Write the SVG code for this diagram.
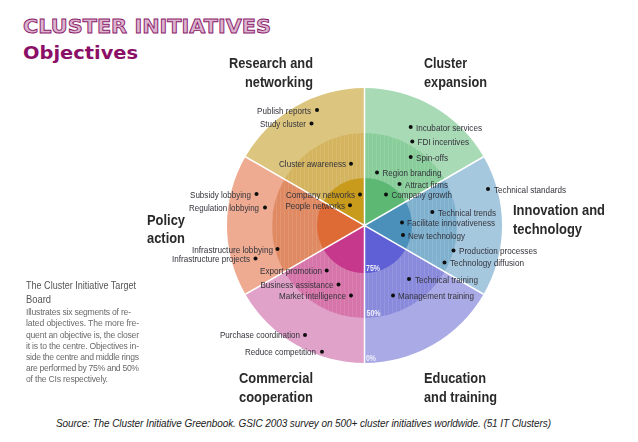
<svg xmlns="http://www.w3.org/2000/svg" width="638" height="442" viewBox="0 0 638 442">
<style>
text{font-family:"Liberation Sans",Arial,sans-serif}
.t{font-size:9.8px;fill:#33333b}
.h{font-size:15px;font-weight:bold;fill:#2a2a2a}
.b{font-size:8.6px;fill:#6a6a6a}
.lh{font-size:11px;fill:#555}
.p{font-size:9px;font-weight:bold;fill:#eeeef8}
.sep{stroke:#fff;stroke-width:1.5;fill:none}
.lab{filter:url(#soft)}
circle{fill:#111}
</style>
<defs>
<pattern id="st" width="4" height="10" patternUnits="userSpaceOnUse"><rect x="0" width="1" height="10" fill="#fff" fill-opacity=".09"/></pattern>
<filter id="soft" x="-2%" y="-2%" width="104%" height="104%"><feGaussianBlur stdDeviation="0.3"/></filter>
</defs>
<rect width="638" height="442" fill="#fff"/>
<g id="title">
<text x="23" y="33" font-size="20" font-weight="bold" textLength="248" lengthAdjust="spacingAndGlyphs" style="font-family:'DejaVu Sans',sans-serif" fill="#dcb4cd" stroke="#8b1a6b" stroke-width="0.9">CLUSTER INITIATIVES</text>
<text x="23" y="59" font-size="18" font-weight="bold" textLength="115" lengthAdjust="spacingAndGlyphs" style="font-family:'DejaVu Sans',sans-serif" fill="#8b0f66">Objectives</text>
</g>
<g id="target" class="lab">
<g id="segment-research">
<path d="M364.5 225.5L245.4 156.75A137.5 137.5 0 0 1 364.5 88Z" fill="#dcc57f"/>
<path d="M364.5 225.5L284.4 179.25A92.5 92.5 0 0 1 364.5 133Z" fill="#d4b45f"/>
<path d="M364.5 225.5L323.4 201.75A47.5 47.5 0 0 1 364.5 178Z" fill="#c99b1e"/>
</g>
<g id="segment-expansion">
<path d="M364.5 225.5V88A137.5 137.5 0 0 1 483.6 156.75Z" fill="#a9dab6"/>
<path d="M364.5 225.5V133A92.5 92.5 0 0 1 444.6 179.25Z" fill="#88cd9a"/>
<path d="M364.5 225.5V178A47.5 47.5 0 0 1 405.6 201.75Z" fill="#5cb873"/>
</g>
<g id="segment-innovation">
<path d="M364.5 225.5L483.6 156.75A137.5 137.5 0 0 1 483.6 294.25Z" fill="#a6c8df"/>
<path d="M364.5 225.5L444.6 179.25A92.5 92.5 0 0 1 444.6 271.75Z" fill="#7fb1cf"/>
<path d="M364.5 225.5L405.6 201.75A47.5 47.5 0 0 1 405.6 249.25Z" fill="#4c8fbb"/>
</g>
<g id="segment-education">
<path d="M364.5 225.5L483.6 294.25A137.5 137.5 0 0 1 364.5 363Z" fill="#aaaae6"/>
<path d="M364.5 225.5L444.6 271.75A92.5 92.5 0 0 1 364.5 318Z" fill="#8a8adc"/>
<path d="M364.5 225.5L405.6 249.25A47.5 47.5 0 0 1 364.5 273Z" fill="#5f5fd6"/>
</g>
<g id="segment-commercial">
<path d="M364.5 225.5V363A137.5 137.5 0 0 1 245.4 294.25Z" fill="#e0a2c8"/>
<path d="M364.5 225.5V318A92.5 92.5 0 0 1 284.4 271.75Z" fill="#d674aa"/>
<path d="M364.5 225.5V273A47.5 47.5 0 0 1 323.4 249.25Z" fill="#c6378c"/>
</g>
<g id="segment-policy">
<path d="M364.5 225.5L245.4 294.25A137.5 137.5 0 0 1 245.4 156.75Z" fill="#eeab92"/>
<path d="M364.5 225.5L284.4 271.75A92.5 92.5 0 0 1 284.4 179.25Z" fill="#e08a64"/>
<path d="M364.5 225.5L323.4 249.25A47.5 47.5 0 0 1 323.4 201.75Z" fill="#de6a36"/>
</g>
<path fill="url(#st)" fill-rule="evenodd" d="M272 225.5a92.5 92.5 0 1 0 185 0a92.5 92.5 0 1 0 -185 0ZM317 225.5a47.5 47.5 0 1 0 95 0a47.5 47.5 0 1 0 -95 0Z"/>
</g>
<g id="connectors">
<path class="sep" d="M364.5 88V363M245.4 156.75L483.6 294.25M245.4 294.25L483.6 156.75"/>
</g>
<g id="node-research" class="lab">
<text class="h" x="229" y="68" textLength="84" lengthAdjust="spacingAndGlyphs">Research and</text>
<text class="h" x="245" y="87" textLength="68" lengthAdjust="spacingAndGlyphs">networking</text>
<text class="t" x="257" y="113.5" textLength="54" lengthAdjust="spacingAndGlyphs">Publish reports</text><circle cx="317" cy="110" r="2"/>
<text class="t" x="260" y="127" textLength="46" lengthAdjust="spacingAndGlyphs">Study cluster</text><circle cx="311.5" cy="123.5" r="2"/>
<text class="t" x="279" y="167" textLength="67" lengthAdjust="spacingAndGlyphs">Cluster awareness</text><circle cx="351" cy="163.7" r="2"/>
<text class="t" x="286" y="198" textLength="69" lengthAdjust="spacingAndGlyphs">Company networks</text><circle cx="360" cy="194.5" r="2"/>
<text class="t" x="285.5" y="209" textLength="59.5" lengthAdjust="spacingAndGlyphs">People networks</text><circle cx="350" cy="205.3" r="2"/>
</g>
<g id="node-expansion" class="lab">
<text class="h" x="424" y="68" textLength="43" lengthAdjust="spacingAndGlyphs">Cluster</text>
<text class="h" x="424" y="87" textLength="63" lengthAdjust="spacingAndGlyphs">expansion</text>
<circle cx="410.7" cy="127" r="2"/><text class="t" x="416" y="130.5" textLength="66" lengthAdjust="spacingAndGlyphs">Incubator services</text>
<circle cx="412.3" cy="141.5" r="2"/><text class="t" x="417.5" y="145" textLength="51.5" lengthAdjust="spacingAndGlyphs">FDI incentives</text>
<circle cx="410.7" cy="157" r="2"/><text class="t" x="416" y="160.5" textLength="32" lengthAdjust="spacingAndGlyphs">Spin-offs</text>
<circle cx="377" cy="172.5" r="2"/><text class="t" x="382.5" y="176" textLength="59" lengthAdjust="spacingAndGlyphs">Region branding</text>
<circle cx="399.5" cy="184" r="2"/><text class="t" x="405" y="187.5" textLength="43" lengthAdjust="spacingAndGlyphs">Attract firms</text>
<circle cx="386" cy="194.5" r="2"/><text class="t" x="391.5" y="198" textLength="60.5" lengthAdjust="spacingAndGlyphs">Company growth</text>
</g>
<g id="node-innovation" class="lab">
<text class="h" x="513" y="215" textLength="92" lengthAdjust="spacingAndGlyphs">Innovation and</text>
<text class="h" x="513" y="234" textLength="69" lengthAdjust="spacingAndGlyphs">technology</text>
<circle cx="488" cy="189" r="2"/><text class="t" x="494" y="192.5" textLength="72" lengthAdjust="spacingAndGlyphs">Technical standards</text>
<circle cx="432.3" cy="212" r="2"/><text class="t" x="438" y="215.5" textLength="58" lengthAdjust="spacingAndGlyphs">Technical trends</text>
<circle cx="402" cy="222.5" r="2"/><text class="t" x="407" y="226" textLength="88" lengthAdjust="spacingAndGlyphs">Facilitate innovativeness</text>
<circle cx="403" cy="235" r="2"/><text class="t" x="408" y="238.5" textLength="57" lengthAdjust="spacingAndGlyphs">New technology</text>
<circle cx="453.5" cy="250.5" r="2"/><text class="t" x="459" y="254" textLength="78" lengthAdjust="spacingAndGlyphs">Production processes</text>
<circle cx="444.5" cy="262.5" r="2"/><text class="t" x="450" y="266" textLength="74" lengthAdjust="spacingAndGlyphs">Technology diffusion</text>
</g>
<g id="node-education" class="lab">
<text class="h" x="424" y="382.5" textLength="62" lengthAdjust="spacingAndGlyphs">Education</text>
<text class="h" x="424" y="401.5" textLength="73" lengthAdjust="spacingAndGlyphs">and training</text>
<circle cx="409" cy="279" r="2"/><text class="t" x="415" y="282.5" textLength="63" lengthAdjust="spacingAndGlyphs">Technical training</text>
<circle cx="393" cy="295.5" r="2"/><text class="t" x="398" y="299" textLength="76" lengthAdjust="spacingAndGlyphs">Management training</text>
<text class="p" x="366" y="271" textLength="14" lengthAdjust="spacingAndGlyphs">75%</text>
<text class="p" x="366.5" y="316" textLength="14" lengthAdjust="spacingAndGlyphs">50%</text>
<text class="p" x="366" y="361" textLength="10" lengthAdjust="spacingAndGlyphs">0%</text>
</g>
<g id="node-commercial" class="lab">
<text class="h" x="239" y="382.5" textLength="74" lengthAdjust="spacingAndGlyphs">Commercial</text>
<text class="h" x="239" y="401.5" textLength="74" lengthAdjust="spacingAndGlyphs">cooperation</text>
<text class="t" x="220" y="338" textLength="80" lengthAdjust="spacingAndGlyphs">Purchase coordination</text><circle cx="305" cy="335" r="2"/>
<text class="t" x="245" y="355" textLength="71" lengthAdjust="spacingAndGlyphs">Reduce competition</text><circle cx="322" cy="351.7" r="2"/>
<text class="t" x="260" y="274" textLength="62" lengthAdjust="spacingAndGlyphs">Export promotion</text><circle cx="326.7" cy="270.5" r="2"/>
<text class="t" x="260.5" y="288" textLength="73" lengthAdjust="spacingAndGlyphs">Business assistance</text><circle cx="338.5" cy="284.5" r="2"/>
<text class="t" x="279" y="299" textLength="67" lengthAdjust="spacingAndGlyphs">Market intelligence</text><circle cx="351" cy="295.5" r="2"/>
</g>
<g id="node-policy" class="lab">
<text class="h" x="147" y="225" textLength="38" lengthAdjust="spacingAndGlyphs">Policy</text>
<text class="h" x="147" y="243" textLength="38" lengthAdjust="spacingAndGlyphs">action</text>
<text class="t" x="190" y="197.5" textLength="61" lengthAdjust="spacingAndGlyphs">Subsidy lobbying</text><circle cx="256.5" cy="194" r="2"/>
<text class="t" x="189" y="211" textLength="70" lengthAdjust="spacingAndGlyphs">Regulation lobbying</text><circle cx="265" cy="207.5" r="2"/>
<text class="t" x="192" y="252.5" textLength="81" lengthAdjust="spacingAndGlyphs">Infrastructure lobbying</text><circle cx="277.5" cy="249" r="2"/>
<text class="t" x="172" y="262" textLength="78" lengthAdjust="spacingAndGlyphs">Infrastructure projects</text><circle cx="255.5" cy="258.5" r="2"/>
</g>
<g id="legend" class="lab">
<text class="lh" x="26" y="289" textLength="110" lengthAdjust="spacingAndGlyphs">The Cluster Initiative Target</text>
<text class="lh" x="26" y="303" textLength="25" lengthAdjust="spacingAndGlyphs">Board</text>
<text class="b" x="26" y="315" textLength="105" lengthAdjust="spacing">Illustrates six segments of re-</text>
<text class="b" x="26" y="326" textLength="113" lengthAdjust="spacing">lated objectives. The more fre-</text>
<text class="b" x="26" y="337.5" textLength="113" lengthAdjust="spacing">quent an objective is, the closer</text>
<text class="b" x="26" y="349" textLength="113" lengthAdjust="spacing">it is to the centre. Objectives in-</text>
<text class="b" x="26" y="360" textLength="113" lengthAdjust="spacing">side the centre and middle rings</text>
<text class="b" x="26" y="371" textLength="113" lengthAdjust="spacing">are performed by 75% and 50%</text>
<text class="b" x="26" y="382" textLength="82" lengthAdjust="spacing">of the CIs respectively.</text>
</g>
<g id="source">
<text x="56" y="427" font-size="10" font-style="italic" fill="#222" textLength="495" lengthAdjust="spacing">Source: The Cluster Initiative Greenbook. GSIC 2003 survey on 500+ cluster initiatives worldwide. (51 IT Clusters)</text>
</g>
</svg>
